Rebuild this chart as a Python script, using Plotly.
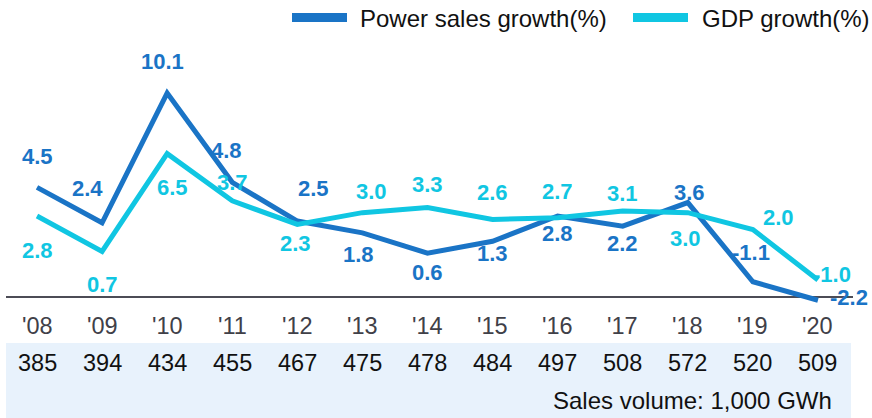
import plotly.graph_objects as go

years = ["'08", "'09", "'10", "'11", "'12", "'13", "'14", "'15", "'16", "'17", "'18", "'19", "'20"]
power_growth = [4.5, 2.4, 10.1, 4.8, 2.5, 1.8, 0.6, 1.3, 2.8, 2.2, 3.6, -1.1, -2.2]
gdp_growth = [2.8, 0.7, 6.5, 3.7, 2.3, 3.0, 3.3, 2.6, 2.7, 3.1, 3.0, 2.0, -1.0]
sales_volume = [385, 394, 434, 455, 467, 475, 478, 484, 497, 508, 572, 520, 509]
unit_note = "Sales volume: 1,000 GWh"
legend_names = ["Power sales growth(%)", "GDP growth(%)"]

# label offsets (pixels, styling only)
power_dx = [0, -15, -5, -6, 16, -4, 0, 0, 0, 0, 2, -2, 31]
power_dy = [31, 34, 32, 32, 33, -22, -19, -12, -17, -17, 10, 29, 3]
gdp_dx = [0, 0, 5, 0, -2, 9, 0, 0, 0, 0, -2, 26, 14]
gdp_dy = [-34, -33, -34, 18, -19, 21, 23, 27, 26, 17, -26, 12, 6]

W, H = 872, 418
C_POWER = "#1a74c6"
C_GDP = "#10c6e2"
FONT = "Arial, Liberation Sans, sans-serif"

xs = list(range(len(years)))
fig = go.Figure()
fig.add_trace(go.Scatter(x=xs, y=power_growth, mode="lines",
                         line=dict(color=C_POWER, width=5), showlegend=False,
                         cliponaxis=False))
fig.add_trace(go.Scatter(x=xs, y=gdp_growth, mode="lines",
                         line=dict(color=C_GDP, width=5), showlegend=False,
                         cliponaxis=False))

ann = []
def fmt(v):
    return f"{v:.1f}"

for i, v in enumerate(power_growth):
    ann.append(dict(x=i, y=v, xref="x", yref="y", text=fmt(v), showarrow=False,
                    xshift=power_dx[i], yshift=power_dy[i],
                    font=dict(family=FONT, size=22, color=C_POWER, weight="bold")))
for i, v in enumerate(gdp_growth):
    ann.append(dict(x=i, y=v, xref="x", yref="y", text=fmt(v), showarrow=False,
                    xshift=gdp_dx[i], yshift=gdp_dy[i],
                    font=dict(family=FONT, size=22, color=C_GDP, weight="bold")))

def py(p):
    return 1 - p / H

for i, (yr, sv) in enumerate(zip(years, sales_volume)):
    ann.append(dict(x=i, y=py(326), xref="x", yref="paper", text=yr, showarrow=False,
                    yanchor="middle", font=dict(family=FONT, size=23.5, color="#404048")))
    ann.append(dict(x=i, y=py(363), xref="x", yref="paper", text=str(sv), showarrow=False,
                    yanchor="middle", font=dict(family=FONT, size=23.5, color="#111111")))

ann.append(dict(x=834 / W, y=py(400), xref="paper", yref="paper", text=unit_note,
                showarrow=False, xanchor="right", yanchor="middle",
                font=dict(family=FONT, size=24, color="#111111")))

# custom legend
shapes = []
leg = [(292, 347, 358, C_POWER, legend_names[0]), (633, 688, 700, C_GDP, legend_names[1])]
for x0, x1, tx, col, name in leg:
    shapes.append(dict(type="line", xref="paper", yref="paper", x0=x0 / W, x1=x1 / W,
                       y0=py(17.5), y1=py(17.5), line=dict(color=col, width=9)))
    ann.append(dict(x=tx / W, y=py(18), xref="paper", yref="paper", text=name,
                    showarrow=False, xanchor="left", yanchor="middle",
                    font=dict(family=FONT, size=24, color="#111111")))

# table band
shapes.append(dict(type="rect", xref="paper", yref="paper", x0=6 / W, x1=851 / W,
                   y0=0, y1=py(343), fillcolor="#e8f2fc", line=dict(width=0), layer="below"))
# base line
shapes.append(dict(type="line", xref="paper", yref="y", x0=6 / W, x1=853 / W,
                   y0=-2.0, y1=-2.0, line=dict(color="#4c4c56", width=2), layer="below"))

fig.update_layout(
    width=W, height=H, margin=dict(l=0, r=0, t=0, b=0),
    paper_bgcolor="white", plot_bgcolor="white",
    xaxis=dict(range=[-37 / 65.08, (W - 37) / 65.08], visible=False, fixedrange=True),
    yaxis=dict(range=[-(H - 263.2) / 16.85, 263.2 / 16.85], visible=False, fixedrange=True),
    annotations=ann, shapes=shapes, showlegend=False,
)
fig.write_html("out.html", config={"displayModeBar": False},
               post_script="document.body.style.margin='0';document.body.style.overflow='hidden';")
